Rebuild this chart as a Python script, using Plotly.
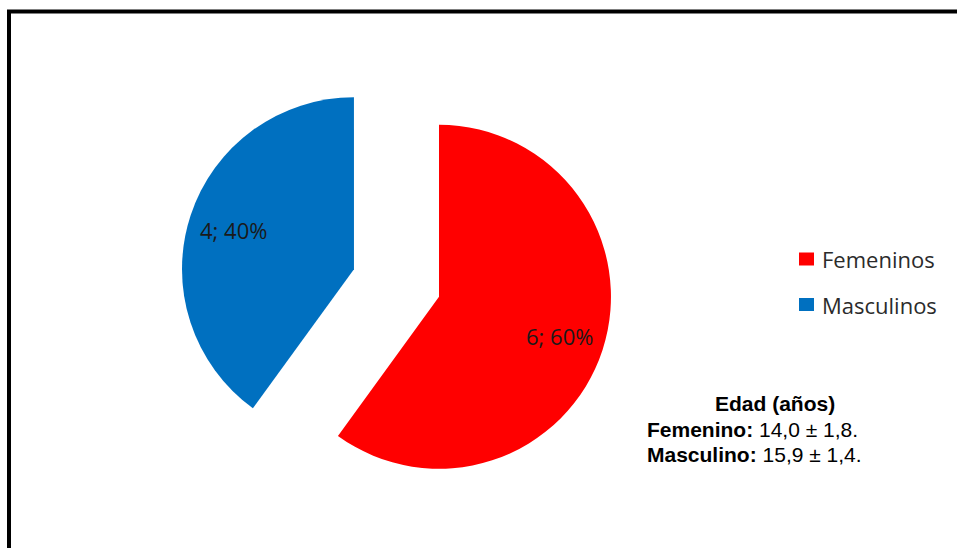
import math
import plotly.graph_objects as go

# Data
labels = ["Femeninos", "Masculinos"]
counts = [6, 4]
colors = ["#FF0000", "#0070C0"]
age_groups = ["Femenino:", "Masculino:"]
age_means = ["14,0", "15,9"]
age_sds = ["1,8", "1,4"]
age_title = "Edad (años)"

# Figure geometry
W, H = 957, 548
PULL = 0.26
DOM_X = [0.1879, 0.6407]
DOM_Y = [0.0881, 0.8791]
LABEL_R = 0.735  # label distance from slice centre, as fraction of radius

fig = go.Figure(
    go.Pie(
        labels=labels,
        values=counts,
        marker=dict(colors=colors, line=dict(width=0)),
        pull=[PULL] * len(counts),
        sort=False,
        direction="clockwise",
        rotation=0,
        textinfo="none",
        hoverinfo="label+value+percent",
        domain=dict(x=DOM_X, y=DOM_Y),
        showlegend=False,
    )
)

# Pie geometry (same rule plotly uses to size a pulled pie in its domain)
box_w = (DOM_X[1] - DOM_X[0]) * W
box_h = (DOM_Y[1] - DOM_Y[0]) * H
r = min(box_w, box_h) / (2 * (1 + PULL))
cx = W * (DOM_X[0] + DOM_X[1]) / 2
cy = H * (1 - (DOM_Y[0] + DOM_Y[1]) / 2)

annotations = []
total = sum(counts)
start = 0.0
for n in counts:
    frac = n / total
    theta = (start + frac / 2) * 2 * math.pi
    dist = (PULL + LABEL_R) * r
    px = cx + dist * math.sin(theta)
    py = cy - dist * math.cos(theta)
    annotations.append(dict(
        x=px / W, y=1 - py / H, xref="paper", yref="paper",
        text=f"{n}; {round(frac * 100)}%", showarrow=False,
        xanchor="center", yanchor="middle",
        font=dict(family="Open Sans", size=22, color="#1a1a1a"),
    ))
    start += frac

# Legend drawn by hand so the entries can be spaced freely
shapes = []
legend_rows = [259, 304.5]
for lab, col, yc in zip(labels, colors, legend_rows):
    shapes.append(dict(
        type="rect", xref="paper", yref="paper",
        x0=799 / W, x1=814 / W, y0=1 - (yc - 6.5) / H, y1=1 - (yc + 6.5) / H,
        fillcolor=col, line=dict(width=0),
    ))
    annotations.append(dict(
        x=820 / W, y=1 - yc / H, xref="paper", yref="paper",
        text=lab, showarrow=False, xanchor="left", yanchor="middle",
        font=dict(family="Open Sans", size=22, color="#2b2b2b"),
    ))

# Age summary block
txt_font = dict(family="Liberation Sans, Arial", size=21, color="#000000")
annotations.append(dict(
    x=775 / W, y=1 - 416 / H, xref="paper", yref="paper",
    text=f"<b>{age_title}</b>", showarrow=False, borderpad=0,
    xanchor="center", yanchor="bottom", font=txt_font,
))
for grp, m, s, ytop in zip(age_groups, age_means, age_sds, [416.5, 441.5]):
    annotations.append(dict(
        x=646 / W, y=1 - ytop / H, xref="paper", yref="paper",
        text=f"<b>{grp}</b> {m} ± {s}.", showarrow=False, borderpad=0,
        xanchor="left", yanchor="top", font=txt_font,
    ))

# Outer frame (left and top edges visible)
frame = dict(color="#000000", width=4)
shapes.append(dict(type="line", xref="paper", yref="paper",
                   x0=9 / W, x1=9 / W, y0=-0.05, y1=1 - 11.5 / H, line=frame))
shapes.append(dict(type="line", xref="paper", yref="paper",
                   x0=9 / W - 2 / W, x1=1.05, y0=1 - 11.5 / H, y1=1 - 11.5 / H, line=frame))

fig.update_layout(
    width=W, height=H,
    margin=dict(l=0, r=0, t=0, b=0),
    paper_bgcolor="#FFFFFF",
    plot_bgcolor="#FFFFFF",
    annotations=annotations,
    shapes=shapes,
)

fig.write_html("out.html")
